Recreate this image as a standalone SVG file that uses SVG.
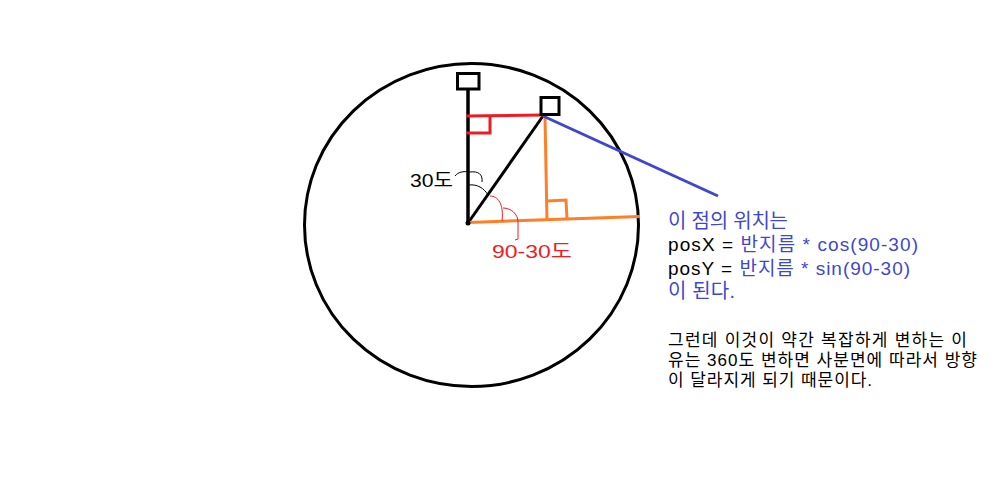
<svg xmlns="http://www.w3.org/2000/svg" width="997" height="487" viewBox="0 0 997 487">
<style>
.k{stroke:#000;fill:none}
.r{stroke:#ed1c24;fill:none}
.o{stroke:#ff7f27;fill:none}
.b{stroke:#3f48cc;fill:none}
.t{font-family:"Liberation Sans","Noto Sans CJK KR",sans-serif}
.blue{fill:#3f48cc}
</style>
<rect width="997" height="487" fill="#fff"/>
<g id="circle"><ellipse cx="471.5" cy="225" rx="167" ry="161.5" class="k" stroke-width="3"/></g>
<g id="connectors">
<line x1="468" y1="223" x2="468" y2="90" class="k" stroke-width="3.5"/>
<line x1="468" y1="223" x2="543" y2="116" class="k" stroke-width="3"/>
<line x1="466" y1="116" x2="543" y2="115" class="r" stroke-width="3"/>
<path d="M490,116 V133 H466" class="r" stroke-width="3"/>
<line x1="545" y1="117" x2="547" y2="221" class="o" stroke-width="3"/>
<line x1="468" y1="222.5" x2="640" y2="216.5" class="o" stroke-width="3"/>
<path d="M547,201 L566,200 L567,219" class="o" stroke-width="3"/>
<line x1="543" y1="116" x2="718" y2="196" class="b" stroke-width="3"/>
<path d="M455,176 C458,172 463,171 470,172 C478,171 483,174 482,182" class="k" stroke-width="1"/>
<path d="M469,185 C477,184 484,188 488,195" class="k" stroke-width="1"/>
<path d="M490,196 C498,196 504,204 502,221" class="r" stroke-width="1"/>
<path d="M503,208 C511,208 518,214 518,222 L518,239 L515,240" class="r" stroke-width="1"/>
<circle cx="468" cy="223" r="2.5" fill="#000"/>
</g>
<g id="box-top"><rect x="457.5" y="73.5" width="21.5" height="15.5" class="k" stroke-width="3"/></g>
<g id="box-point"><rect x="541" y="97.5" width="18" height="17" class="k" stroke-width="3"/></g>
<g id="labels" class="t">
<text x="410" y="187" font-size="19" textLength="43" lengthAdjust="spacingAndGlyphs">30도</text>
<text x="492" y="258" font-size="19" fill="#ed1c24" textLength="80" lengthAdjust="spacingAndGlyphs">90-30도</text>
</g>
<g id="explanation" class="t">
<text x="668" y="228" font-size="20" class="blue" textLength="120">이 점의 위치는</text>
<text x="668" y="251" font-size="19" textLength="250"><tspan>posX = </tspan><tspan class="blue">반지름 * cos(90-30)</tspan></text>
<text x="668" y="275" font-size="19" textLength="242"><tspan>posY = </tspan><tspan class="blue">반지름 * sin(90-30)</tspan></text>
<text x="668" y="298" font-size="20" class="blue" textLength="67">이 된다.</text>
<text x="668" y="346" font-size="17" textLength="299">그런데 이것이 약간 복잡하게 변하는 이</text>
<text x="668" y="366" font-size="17" textLength="309">유는 360도 변하면 사분면에 따라서 방향</text>
<text x="668" y="386" font-size="17" textLength="204">이 달라지게 되기 때문이다.</text>
</g>
</svg>
